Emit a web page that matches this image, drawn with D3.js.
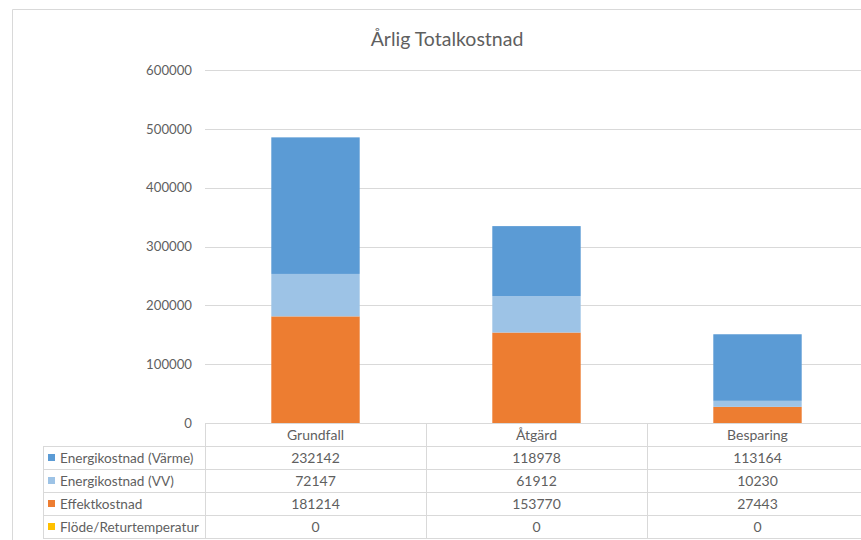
<!DOCTYPE html>
<html>
<head>
<meta charset="utf-8">
<script src="https://cdn.jsdelivr.net/npm/d3@7"></script>
<style>
  html, body { margin: 0; padding: 0; background: #ffffff; overflow: hidden; }
  svg { display: block; font-family: Lato, "Open Sans", sans-serif; }
</style>
</head>
<body>
<svg id="chart" width="861" height="540"></svg>
<script>
// Annual total cost, stacked per scenario, with a data table underneath
const categories = ["Grundfall", "Åtgärd", "Besparing"];
const seriesNames = ["Energikostnad (Värme)", "Energikostnad (VV)", "Effektkostnad", "Flöde/Returtemperatur"];
const energiVarme = [232142, 118978, 113164];
const energiVV = [72147, 61912, 10230];
const effekt = [181214, 153770, 27443];
const flode = [0, 0, 0];
const yTicks = [0, 100000, 200000, 300000, 400000, 500000, 600000];

const seriesValues = [energiVarme, energiVV, effekt, flode];
const colors = ["#5b9bd5", "#9dc3e6", "#ed7d31", "#ffc000"];
// stacking order from the bottom up
const stackOrder = [2, 1, 0, 3];

const svg = d3.select("#chart");
const textColor = "#5f5f5f";
const lineColor = "#d9d9d9";

const plotLeft = 205, plotRight = 868, plotTop = 70, plotBottom = 423;

const x = d3.scaleBand().domain(categories).range([plotLeft, plotRight]).padding(0);
const y = d3.scaleLinear().domain([0, 600000]).range([plotBottom, plotTop]);
const barW = x.bandwidth() * 0.4;

// chart frame (top and left edges; the rest runs past the view)
svg.append("path")
  .attr("d", "M12.5,600 V9.5 H900")
  .attr("fill", "none").attr("stroke", lineColor);

// title
svg.append("text")
  .attr("x", 447).attr("y", 46)
  .attr("text-anchor", "middle")
  .attr("fill", textColor)
  .attr("font-size", 19.5)
  .text("Årlig Totalkostnad");

// gridlines
svg.append("g").selectAll("line").data(yTicks.filter(d => d > 0)).join("line")
  .attr("x1", plotLeft).attr("x2", plotRight)
  .attr("y1", d => Math.round(y(d)) + 0.5).attr("y2", d => Math.round(y(d)) + 0.5)
  .attr("stroke", lineColor).attr("stroke-width", 1);

// y axis labels
const yAxis = d3.axisLeft(y).tickValues(yTicks).tickSize(0).tickPadding(13).tickFormat(d3.format("d"));
const yg = svg.append("g").attr("transform", `translate(${plotLeft},0)`).call(yAxis);
yg.select(".domain").remove();
yg.selectAll("text").attr("fill", textColor).attr("font-size", 13.2)
  .attr("font-family", "Lato, sans-serif");

// stacked bars
const rows = categories.map((c, i) => {
  const o = { cat: c };
  seriesNames.forEach((s, k) => { o[s] = seriesValues[k][i]; });
  return o;
});
const stack = d3.stack().keys(stackOrder.map(k => seriesNames[k]));
const stacked = stack(rows);
svg.append("g").selectAll("g").data(stacked).join("g")
  .attr("fill", d => colors[seriesNames.indexOf(d.key)])
  .selectAll("rect").data(d => d).join("rect")
  .attr("x", d => x(d.data.cat) + (x.bandwidth() - barW) / 2)
  .attr("width", barW)
  .attr("y", d => y(d[1]))
  .attr("height", d => y(d[0]) - y(d[1]));

// data table
const tableLeft = 43, rowH = 23, headTop = plotBottom;
const tbl = svg.append("g").attr("font-size", 14).attr("fill", textColor);
const nRows = seriesNames.length;
const tableBottom = headTop + rowH * (nRows + 1);

// horizontal rules
tbl.append("line").attr("x1", plotLeft).attr("x2", plotRight)
  .attr("y1", headTop + 0.5).attr("y2", headTop + 0.5).attr("stroke", lineColor);
d3.range(1, nRows + 2).forEach(r => {
  tbl.append("line").attr("x1", tableLeft).attr("x2", plotRight)
    .attr("y1", headTop + r * rowH + 0.5).attr("y2", headTop + r * rowH + 0.5)
    .attr("stroke", lineColor);
});
// vertical rules
tbl.append("line").attr("x1", tableLeft + 0.5).attr("x2", tableLeft + 0.5)
  .attr("y1", headTop + rowH).attr("y2", tableBottom).attr("stroke", lineColor);
categories.forEach((c, i) => {
  const xx = Math.round(x(c)) + 0.5;
  tbl.append("line").attr("x1", xx).attr("x2", xx)
    .attr("y1", headTop).attr("y2", tableBottom).attr("stroke", lineColor);
});

// header row
tbl.selectAll("text.head").data(categories).join("text")
  .attr("class", "head")
  .attr("x", d => x(d) + x.bandwidth() / 2)
  .attr("y", headTop + rowH / 2 + 5)
  .attr("text-anchor", "middle")
  .text(d => d);

// series rows
seriesNames.forEach((s, k) => {
  const cy = headTop + rowH * (k + 1) + rowH / 2;
  tbl.append("rect").attr("x", 48).attr("y", cy - 3.5).attr("width", 7).attr("height", 7)
    .attr("fill", colors[k]);
  tbl.append("text").attr("x", 60).attr("y", cy + 5).attr("font-size", 13.6).text(s);
  categories.forEach((c, i) => {
    tbl.append("text")
      .attr("x", x(c) + x.bandwidth() / 2)
      .attr("y", cy + 5)
      .attr("text-anchor", "middle")
      .text(seriesValues[k][i]);
  });
});
</script>
</body>
</html>
